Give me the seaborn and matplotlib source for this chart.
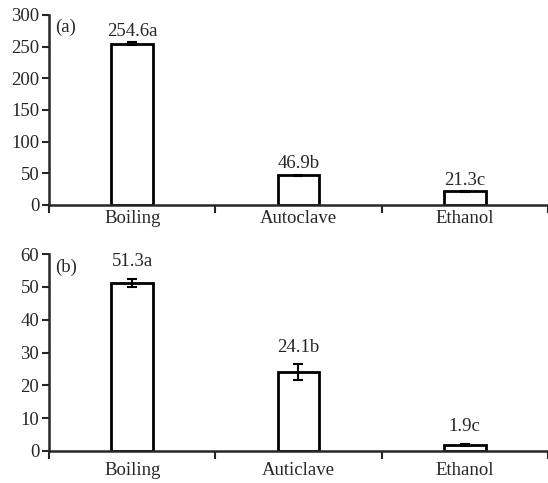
import numpy as np
import pandas as pd
import matplotlib
matplotlib.use("Agg")
import matplotlib.pyplot as plt
import seaborn as sns

# panel (a)
cats_a = ["Boiling", "Autoclave", "Ethanol"]
vals_a = [254.6, 46.9, 21.3]
errs_a = [2.0, 1.0, 0.3]
labs_a = ["254.6a", "46.9b", "21.3c"]

# panel (b)
cats_b = ["Boiling", "Auticlave", "Ethanol"]
vals_b = [51.3, 24.1, 1.9]
errs_b = [1.2, 2.4, 0.3]
labs_b = ["51.3a", "24.1b", "1.9c"]

sns.set_style("ticks")
plt.rcParams['font.family'] = ['Liberation Serif', 'DejaVu Serif']
plt.rcParams['font.size'] = 13.5

fig = plt.figure(figsize=(5.48, 4.83), dpi=100)
ax1 = fig.add_axes([0.0894, 0.5756, 0.9106, 0.3934])
ax2 = fig.add_axes([0.0894, 0.0663, 0.9106, 0.4077])


def panel(ax, cats, vals, errs, labs, ymax, step, tag, off, xpad):
    df = pd.DataFrame({"cat": cats, "val": vals})
    sns.barplot(data=df, x="cat", y="val", ax=ax, width=0.25, color="white",
                edgecolor="black", linewidth=2, errorbar=None)
    ax.errorbar(range(len(cats)), vals, yerr=errs, fmt="none", ecolor="black",
                elinewidth=1.5, capsize=3.5, capthick=1.5)
    for i, (v, e, t) in enumerate(zip(vals, errs, labs)):
        ax.annotate(t, (i, v + e), xytext=(0, off), textcoords="offset points",
                    ha="center", va="bottom", fontsize=13.5)
    ax.set_xlim(-0.5, len(cats) - 0.5)
    ax.set_ylim(0, ymax)
    ax.set_yticks(np.arange(0, ymax + 1, step))
    ax.set_xticks(np.arange(-0.5, len(cats)), minor=True)
    ax.tick_params(axis="x", which="major", length=0, pad=xpad, labelsize=13.5)
    ax.tick_params(axis="x", which="minor", length=6, width=1.5, direction="out")
    ax.tick_params(axis="y", length=5, width=1.5, direction="out", labelsize=13.5, pad=2)
    ax.set_xlabel("")
    ax.set_ylabel("")
    for s in ["top", "right"]:
        ax.spines[s].set_visible(False)
    for s in ["left", "bottom"]:
        ax.spines[s].set_linewidth(1.8)
    ax.text(0.012, 0.91, tag, transform=ax.transAxes, fontsize=13.5)


panel(ax1, cats_a, vals_a, errs_a, labs_a, 300, 50, "(a)", 2, 3.5)
panel(ax2, cats_b, vals_b, errs_b, labs_b, 60, 10, "(b)", 6, 8)

fig.savefig("out.png", dpi=100)
